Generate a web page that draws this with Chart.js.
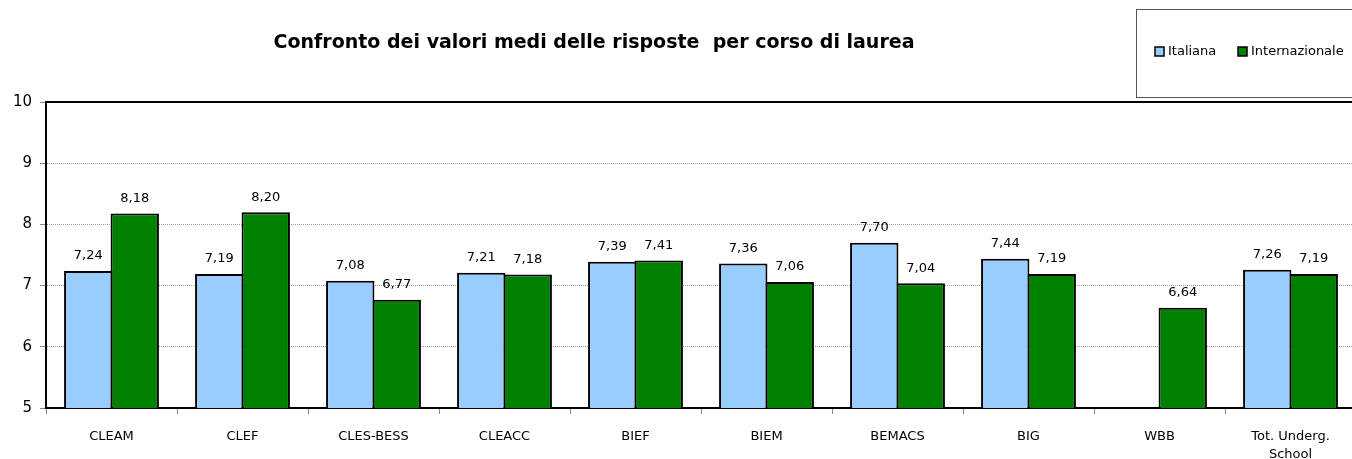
<!DOCTYPE html>
<html>
<head>
<meta charset="utf-8">
<script src="https://cdn.jsdelivr.net/npm/chart.js@4.4.0/dist/chart.umd.min.js"></script>
<style>
  html, body { margin: 0; padding: 0; background: #fff; overflow: hidden; }
  #wrap { width: 1362px; height: 459px; }
</style>
</head>
<body>
<div id="wrap"><canvas id="graph" width="1362" height="459"></canvas></div>
<script>
// corsi di laurea e medie
const corsi = ["CLEAM", "CLEF", "CLES-BESS", "CLEACC", "BIEF", "BIEM", "BEMACS", "BIG", "WBB", ["Tot. Underg.", "School"]];
const italiana = [7.24, 7.19, 7.08, 7.21, 7.39, 7.36, 7.70, 7.44, null, 7.26];
const internazionale = [8.18, 8.20, 6.77, 7.18, 7.41, 7.06, 7.04, 7.19, 6.64, 7.19];
const yTicks = [5, 6, 7, 8, 9, 10];

const titolo = "Confronto dei valori medi delle risposte  per corso di laurea";
const FONT = "'DejaVu Sans', Verdana, sans-serif";

// titolo, legenda, riquadro ed etichette dei valori
const extras = {
  id: "extras",
  afterDraw(chart) {
    const ctx = chart.ctx;
    const area = chart.chartArea;
    ctx.save();

    // bordo superiore dell'area del grafico
    ctx.strokeStyle = "#000";
    ctx.lineWidth = 2;
    ctx.beginPath();
    ctx.moveTo(area.left, area.top);
    ctx.lineTo(area.right, area.top);
    ctx.stroke();

    // titolo
    ctx.fillStyle = "#000";
    ctx.font = "bold 19px " + FONT;
    ctx.textAlign = "center";
    ctx.textBaseline = "middle";
    ctx.fillText(titolo, 594, 43);

    // riquadro legenda
    ctx.lineWidth = 1;
    ctx.strokeStyle = "#555";
    ctx.strokeRect(1136.5, 9.5, 240, 88);
    const voci = [
      { testo: "Italiana", colore: chart.data.datasets[0].backgroundColor, x: 1155 },
      { testo: "Internazionale", colore: chart.data.datasets[1].backgroundColor, x: 1238 }
    ];
    ctx.font = "13px " + FONT;
    ctx.textAlign = "left";
    voci.forEach(v => {
      ctx.fillStyle = v.colore;
      ctx.fillRect(v.x, 47, 9, 9);
      ctx.strokeStyle = "#000";
      ctx.lineWidth = 1.5;
      ctx.strokeRect(v.x, 47, 9, 9);
      ctx.fillStyle = "#000";
      ctx.fillText(v.testo, v.x + 13, 52);
    });

    // valori sopra le barre
    ctx.font = "13px " + FONT;
    ctx.textAlign = "center";
    ctx.textBaseline = "middle";
    chart.data.datasets.forEach((ds, i) => {
      const meta = chart.getDatasetMeta(i);
      meta.data.forEach((bar, j) => {
        const v = ds.data[j];
        if (v === null || v === undefined) return;
        ctx.fillText(v.toFixed(2).replace(".", ","), bar.x, bar.y - 15);
      });
    });
    ctx.restore();
  }
};

const graph = document.getElementById("graph");
const graphChart = new Chart(graph, {
  type: "bar",
  data: {
    labels: corsi,
    datasets: [
      {
        label: "Italiana",
        backgroundColor: "#99CCFF",
        borderColor: "#000",
        borderWidth: 2,
        data: italiana
      },
      {
        label: "Internazionale",
        backgroundColor: "#008000",
        borderColor: "#000",
        borderWidth: 2,
        data: internazionale
      }
    ]
  },
  options: {
    responsive: false,
    animation: false,
    layout: { padding: { top: 102, left: 0, right: 6, bottom: 0 } },
    datasets: {
      bar: { categoryPercentage: 0.71, barPercentage: 1.04, inflateAmount: 0 }
    },
    plugins: {
      legend: { display: false },
      title: { display: false },
      tooltip: { enabled: false }
    },
    scales: {
      x: {
        afterFit(scale) { scale.height = 51; },
        grid: {
          offset: true,
          drawOnChartArea: false,
          tickLength: 6,
          color: "#888"
        },
        border: { color: "#000", width: 2 },
        ticks: {
          color: "#000",
          font: { family: FONT, size: 13, lineHeight: 1.35 },
          padding: 14,
          maxRotation: 0,
          autoSkip: false
        }
      },
      y: {
        min: 5,
        max: 10,
        afterFit(scale) { scale.width = 46; },
        afterBuildTicks(scale) { scale.ticks = yTicks.map(v => ({ value: v })); },
        grid: {
          color: "#999",
          tickColor: "#888",
          tickLength: 6,
          tickBorderDash: [],
          lineWidth: 1
        },
        border: { color: "#000", width: 2, dash: [1, 1] },
        ticks: {
          color: "#000",
          font: { family: FONT, size: 15 },
          padding: 8
        }
      }
    }
  },
  plugins: [extras]
});
</script>
</body>
</html>
